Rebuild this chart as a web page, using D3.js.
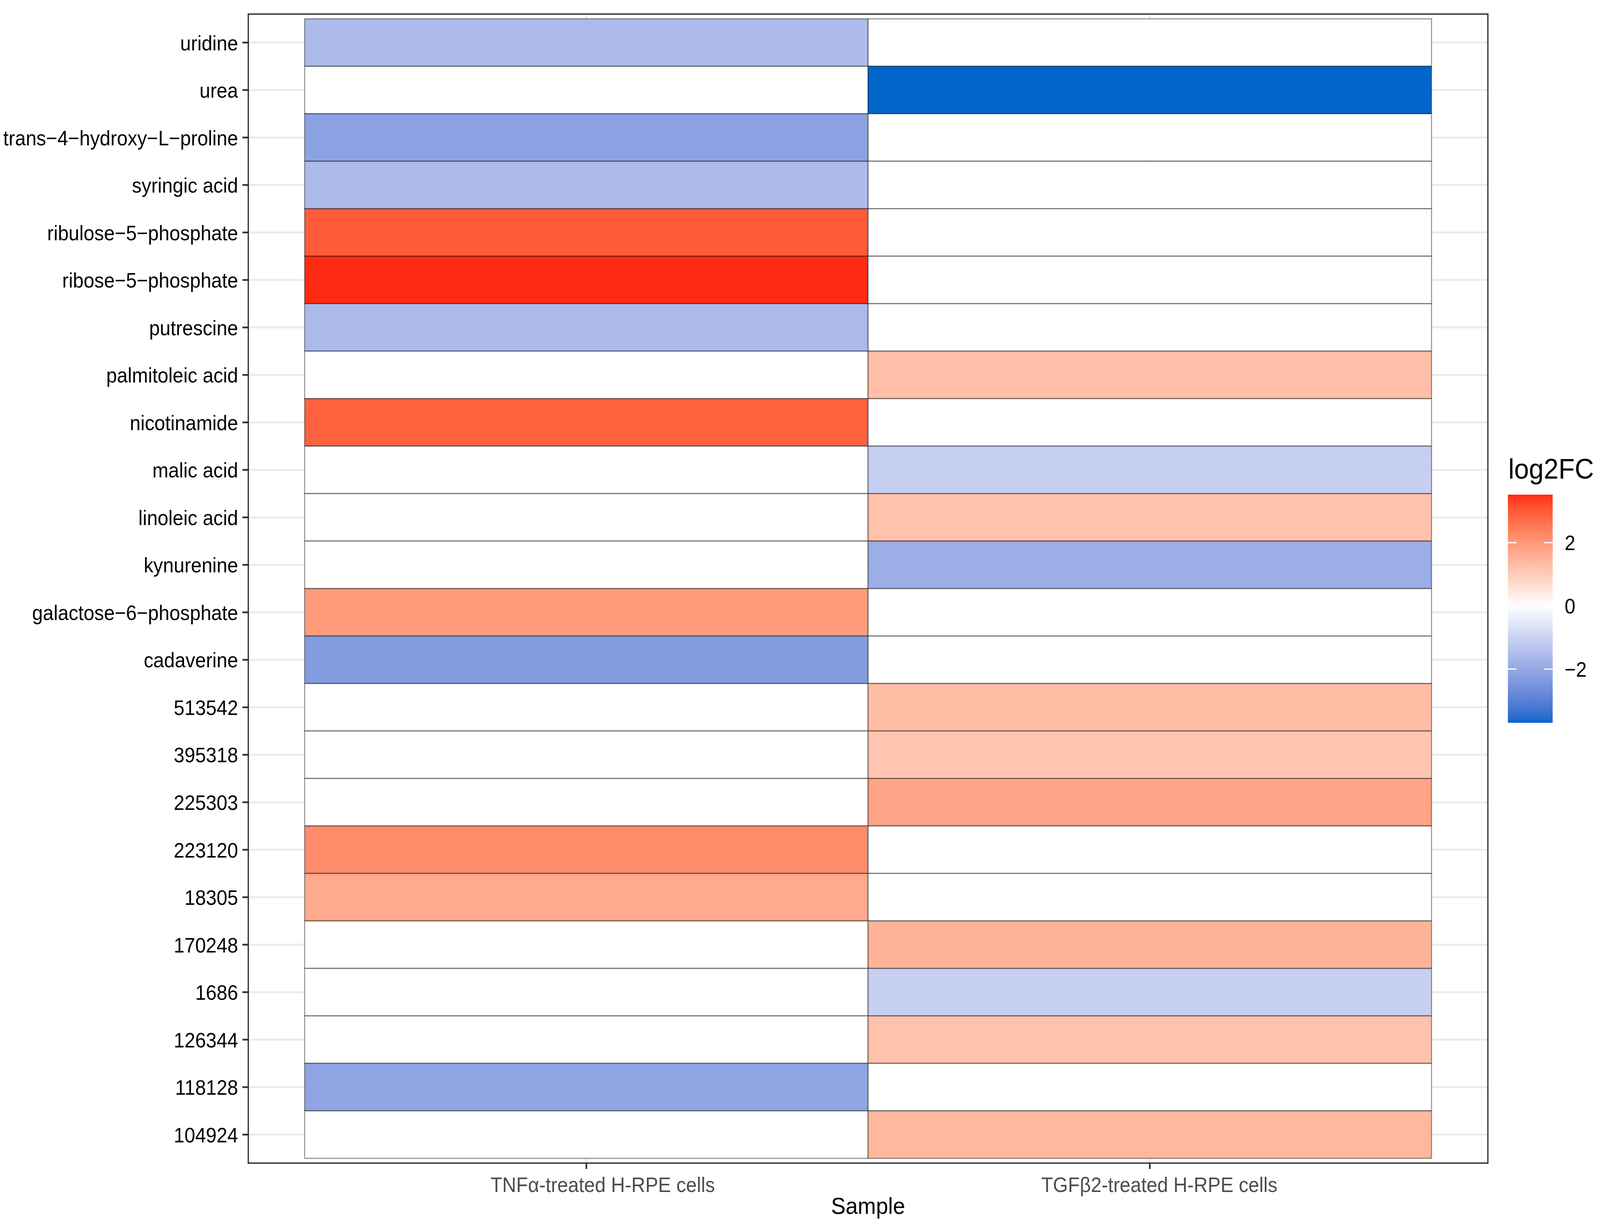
<!DOCTYPE html>
<html>
<head>
<meta charset="utf-8">
<script src="https://cdn.jsdelivr.net/npm/d3@7"></script>
<style>
  html, body { margin: 0; padding: 0; overflow: hidden; background: #fff; }
  svg { display: block; }
  text { font-family: "Liberation Sans", Arial, Helvetica, sans-serif; }
</style>
</head>
<body>
<div id="chart"></div>
<script>
// metabolites, top row first
var metabolites = ["uridine", "urea", "trans-4-hydroxy-L-proline", "syringic acid",
    "ribulose-5-phosphate", "ribose-5-phosphate", "putrescine", "palmitoleic acid",
    "nicotinamide", "malic acid", "linoleic acid", "kynurenine", "galactose-6-phosphate",
    "cadaverine", "513542", "395318", "225303", "223120", "18305", "170248", "1686",
    "126344", "118128", "104924"];

var samples = ["TNFα-treated H-RPE cells", "TGFβ2-treated H-RPE cells"];

// log2FC per metabolite (same order as above), 0 = not changed
var tnfLog2FC = [-1.56, 0, -2.16, -1.55, 2.98, 3.52, -1.57, 0, 2.88, 0, 0, 0, 1.93,
    -2.31, 0, 0, 0, 2.18, 1.66, 0, 0, 0, -2.08, 0];
var tgfLog2FC = [0, -3.70, 0, 0, 0, 0, 0, 1.27, 0, -1.09, 1.19, -1.87, 0, 0, 1.29,
    1.14, 1.76, 0, 0, 1.47, -1.07, 1.19, 0, 1.38];

var legendBreaks = [-2, 0, 2];

makeHeatmap();

function makeHeatmap() {
    var svgWidth = 4395;
    var svgHeight = 3138;

    var panel = { left: 682, right: 4087, top: 36, bottom: 2977 };
    // the original x labels sit a little right of their ticks
    var xLabelShift = [45, 26];

    var data = [];
    metabolites.forEach(function(m, i) {
        data.push({ metabolite: m, sample: samples[0], value: tnfLog2FC[i] });
        data.push({ metabolite: m, sample: samples[1], value: tgfLog2FC[i] });
    });

    // fill whatever viewport we get
    var svg = d3.select("#chart")
        .append("svg")
        .attr("width", window.innerWidth || svgWidth)
        .attr("height", window.innerHeight || svgHeight)
        .attr("viewBox", `0 0 ${svgWidth} ${svgHeight}`)
        .attr("preserveAspectRatio", "none");

    var xScale = d3.scaleBand()
        .domain(samples)
        .range([panel.left, panel.right])
        .paddingInner(0)
        .paddingOuter(0.1);

    var yScale = d3.scaleBand()
        .domain(metabolites)
        .range([panel.top, panel.bottom])
        .paddingInner(0)
        .paddingOuter(0.1);

    var vMin = d3.min(data, d => d.value);
    var vMax = d3.max(data, d => d.value);
    var maxAbs = d3.max(data, d => Math.abs(d.value));

    var colorScale = d3.scaleLinear()
        .domain([-maxAbs, 0, maxAbs])
        .range(["#0066CC", "#FFFFFF", "#FF0000"])
        .interpolate(d3.interpolateLab);

    // grid
    var gridGroup = svg.append("g");
    gridGroup.selectAll(".hgrid")
        .data(metabolites)
        .enter()
        .append("line")
        .attr("x1", panel.left)
        .attr("x2", panel.right)
        .attr("y1", d => yScale(d) + yScale.bandwidth() / 2)
        .attr("y2", d => yScale(d) + yScale.bandwidth() / 2)
        .attr("stroke", "#EBEBEB")
        .attr("stroke-width", 5);
    gridGroup.selectAll(".vgrid")
        .data(samples)
        .enter()
        .append("line")
        .attr("y1", panel.top)
        .attr("y2", panel.bottom)
        .attr("x1", d => xScale(d) + xScale.bandwidth() / 2)
        .attr("x2", d => xScale(d) + xScale.bandwidth() / 2)
        .attr("stroke", "#EBEBEB")
        .attr("stroke-width", 5);

    // tiles
    svg.append("g")
        .selectAll("rect")
        .data(data)
        .enter()
        .append("rect")
        .attr("x", d => xScale(d.sample))
        .attr("y", d => yScale(d.metabolite))
        .attr("width", xScale.bandwidth())
        .attr("height", yScale.bandwidth())
        .attr("fill", d => colorScale(d.value))
        .attr("stroke", "rgba(0,0,0,0.4)")
        .attr("stroke-width", 3);

    // panel border
    svg.append("rect")
        .attr("x", panel.left)
        .attr("y", panel.top)
        .attr("width", panel.right - panel.left)
        .attr("height", panel.bottom - panel.top)
        .attr("fill", "none")
        .attr("stroke", "#333333")
        .attr("stroke-width", 3.5);

    // axes
    var leftAxis = d3.axisLeft(yScale).tickSize(16).tickPadding(12)
        .tickFormat(d => d.replace(/-/g, "\u2212"));
    var bottomAxis = d3.axisBottom(xScale).tickSize(15).tickPadding(21);

    var yAxisG = svg.append("g")
        .attr("transform", `translate(${panel.left}, 0)`)
        .call(leftAxis);
    yAxisG.select(".domain").remove();
    yAxisG.selectAll("line").attr("stroke", "#333333").attr("stroke-width", 4.5);
    yAxisG.selectAll("text")
        .attr("font-size", 53)
        .attr("dy", "0.37em")
        .attr("fill", "#000000")
        .attr("font-family", null);

    var xAxisG = svg.append("g")
        .attr("transform", `translate(0, ${panel.bottom})`)
        .call(bottomAxis);
    xAxisG.select(".domain").remove();
    xAxisG.selectAll("line").attr("stroke", "#333333").attr("stroke-width", 4.5);
    xAxisG.selectAll("text")
        .attr("font-size", 53)
        .attr("dx", (d, i) => xLabelShift[i])
        .attr("fill", "#4D4D4D")
        .attr("font-family", null);

    svg.append("text")
        .attr("x", (panel.left + panel.right) / 2)
        .attr("y", 3107)
        .attr("text-anchor", "middle")
        .attr("font-size", 60)
        .attr("fill", "#000000")
        .text("Sample");

    // legend
    var legend = { x: 4142, top: 1266, bottom: 1850, width: 123 };

    var legendScale = d3.scaleLinear()
        .domain([vMin, vMax])
        .range([legend.bottom, legend.top]);

    var grad = svg.append("defs")
        .append("linearGradient")
        .attr("id", "lgGrad")
        .attr("x1", 0).attr("y1", 1)
        .attr("x2", 0).attr("y2", 0);
    d3.range(0, 1.0001, 0.02).forEach(function(t) {
        var v = vMin + t * (vMax - vMin);
        grad.append("stop")
            .attr("offset", t)
            .attr("stop-color", colorScale(v));
    });

    svg.append("text")
        .attr("x", 4143)
        .attr("y", 1225)
        .attr("font-size", 73)
        .attr("fill", "#000000")
        .text("log2FC");

    svg.append("rect")
        .attr("x", legend.x)
        .attr("y", legend.top)
        .attr("width", legend.width)
        .attr("height", legend.bottom - legend.top)
        .attr("fill", "url(#lgGrad)");

    var tickG = svg.append("g");
    legendBreaks.forEach(function(b) {
        var yy = legendScale(b);
        tickG.append("line")
            .attr("x1", legend.x).attr("x2", legend.x + 24)
            .attr("y1", yy).attr("y2", yy)
            .attr("stroke", "#FFFFFF").attr("stroke-width", 3);
        tickG.append("line")
            .attr("x1", legend.x + legend.width - 24).attr("x2", legend.x + legend.width)
            .attr("y1", yy).attr("y2", yy)
            .attr("stroke", "#FFFFFF").attr("stroke-width", 3);
    });

    svg.append("g")
        .selectAll("text")
        .data(legendBreaks)
        .enter()
        .append("text")
        .attr("x", 4298)
        .attr("y", d => legendScale(d))
        .attr("dy", "0.36em")
        .attr("font-size", 53)
        .attr("fill", "#000000")
        .text(d => d3.format("d")(d));
}
</script>
</body>
</html>
